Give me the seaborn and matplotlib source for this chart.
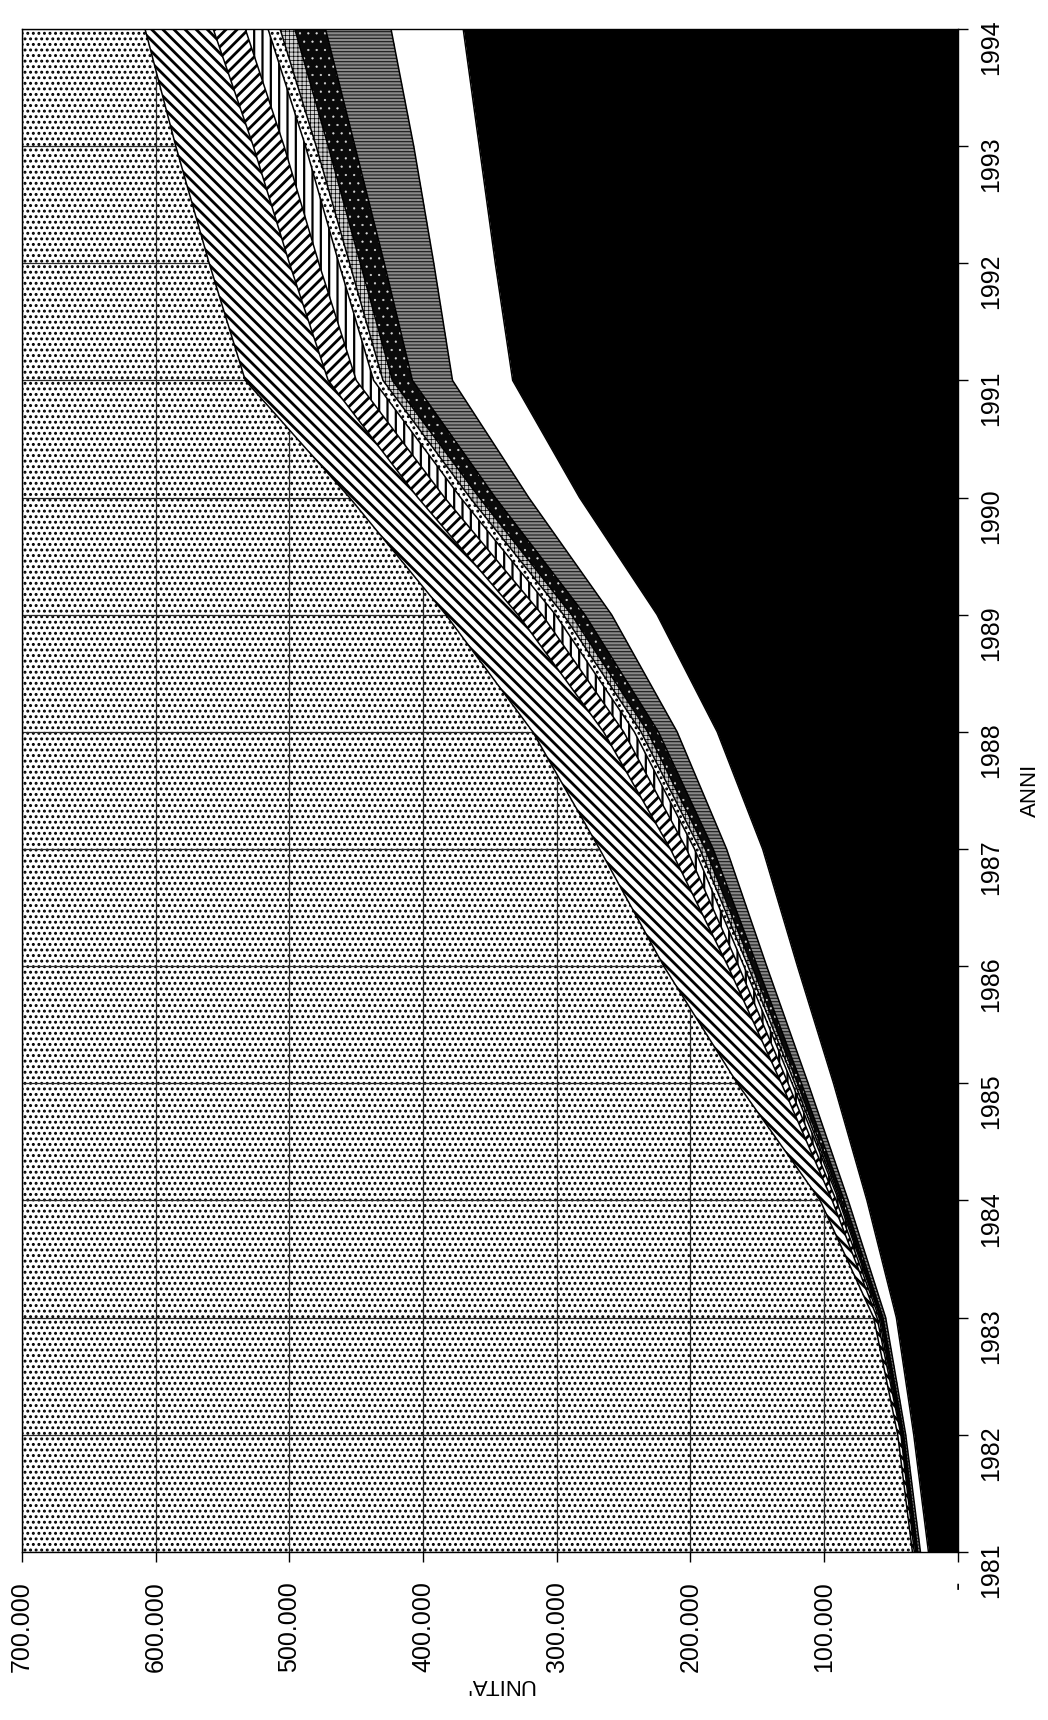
import numpy as np
import matplotlib
matplotlib.use("Agg")
import matplotlib.pyplot as plt
import seaborn as sns
from matplotlib.patches import Rectangle

# Years on the category axis
anni = [1981, 1982, 1983, 1984, 1985, 1986, 1987, 1988, 1989, 1990, 1991, 1992, 1993, 1994]

# Stacked series, thousands of units, from the baseline outward
strato_nero = [22, 33, 46, 68, 93, 120, 146, 180, 225, 283, 333, 346, 358, 370]
strato_bianco = [6, 6, 8, 14, 19, 23, 27, 30, 34, 38, 45, 46, 49, 54]
strato_grigio = [2, 1.5, 2, 3, 5, 7, 10, 14, 20, 25, 30, 37, 44, 49]
strato_scuro = [0.5, 0.5, 1, 2, 3, 4, 6, 8, 10, 12, 15, 18, 20, 23]
strato_fitto = [0.3, 0.3, 0.5, 1, 2, 3, 4, 5, 6, 7, 7, 8, 9, 11]
strato_puntini = [0.3, 0.3, 0.5, 1, 2, 3, 4, 5, 6, 7, 7, 8, 8, 9]
strato_verticale = [0.5, 0.5, 1, 2, 3, 4, 6, 8, 10, 12, 13, 15, 16, 17]
strato_spina = [1, 0.5, 1.5, 3, 5, 8, 12, 15, 18, 20, 21, 22, 23, 24]
strato_diagonale = [1.4, 2.4, 2.5, 9, 33, 48, 53, 53, 54, 51, 62, 60, 58, 51]

# Value axis ticks and their labels (Italian thousands separator)
valori_tick = [0, 100000, 200000, 300000, 400000, 500000, 600000, 700000]
etichette_tick = ["-", "100.000", "200.000", "300.000", "400.000", "500.000", "600.000", "700.000"]

sns.set_theme(style="ticks")
plt.rcParams["font.family"] = ["Liberation Sans Narrow", "Liberation Sans", "DejaVu Sans"]
plt.rcParams["hatch.linewidth"] = 1.0

fig = plt.figure(figsize=(10.48, 17.2), dpi=100)
ax = fig.add_axes([0.021, 0.0977, 0.893, 0.8855])

# dotted plot-area background
with plt.rc_context({"hatch.linewidth": 1.35}):
    sfondo = Rectangle((0, 0), 1, 1, transform=ax.transAxes, facecolor="white",
                       edgecolor="black", hatch="...", linewidth=0, zorder=0.1)
if hasattr(sfondo, "set_hatch_linewidth"):
    sfondo.set_hatch_linewidth(1.35)
ax.add_patch(sfondo)

ax.set_axisbelow(True)
ax.grid(True, color="#2a2a2a", linewidth=0.9)

# (series, facecolor, hatch colour, hatch, hatch linewidth)
stili = [
    (strato_nero, "black", "black", None, 1.0),
    (strato_bianco, "white", "black", None, 1.0),
    (strato_grigio, "#8a8a8a", "#1a1a1a", "-----", 0.8),
    (strato_scuro, "#0a0a0a", "#dddddd", "..", 0.35),
    (strato_fitto, "#d0d0d0", "black", "++++", 0.5),
    (strato_puntini, "white", "black", "...", 1.3),
    (strato_verticale, "white", "black", "||", 1.6),
    (strato_spina, "white", "black", "///", 2.0),
    (strato_diagonale, "white", "black", "\\\\\\", 2.0),
]

y = np.array(anni, dtype=float)
base = np.zeros(len(anni))
for serie, fc, hc, hatch, hlw in stili:
    cima = base + np.array(serie, dtype=float) * 1000
    with plt.rc_context({"hatch.linewidth": hlw}):
        coll = ax.fill_betweenx(y, base, cima, facecolor=fc, edgecolor=hc,
                                hatch=hatch, linewidth=0, zorder=2)
    if hasattr(coll, "set_hatch_linewidth"):
        coll.set_hatch_linewidth(hlw)
    sns.lineplot(x=cima, y=y, orient="y", color="black", linewidth=1.1,
                 ax=ax, zorder=3, legend=False)
    base = cima

ax.set_xlim(700000, 0)
ax.set_ylim(1981, 1994)

ax.set_xticks(valori_tick)
ax.set_xticklabels(etichette_tick)
ax.set_yticks(anni)
ax.set_yticklabels([str(a) for a in anni])
ax.yaxis.tick_right()

ax.tick_params(axis="x", direction="out", length=7, width=1, pad=14,
               labelsize=18, labelrotation=90, colors="black")
ax.tick_params(axis="y", direction="out", length=7, width=1, pad=8,
               labelsize=18, labelrotation=90, colors="black")

for sp in ax.spines.values():
    sp.set_visible(True)
    sp.set_color("black")
    sp.set_linewidth(1.0)
    sp.set_zorder(4)

ax.set_xlabel("UNITA'", rotation=180, fontsize=16, color="black",
              ha="center", va="center")
ax.xaxis.set_label_coords(0.51, -0.0867)
ax.yaxis.set_label_position("right")
ax.set_ylabel("ANNI", rotation=90, fontsize=16, color="black",
              ha="center", va="center")
ax.yaxis.set_label_coords(1.078, 0.5)

fig.savefig("out.png", dpi=100, facecolor="white")
